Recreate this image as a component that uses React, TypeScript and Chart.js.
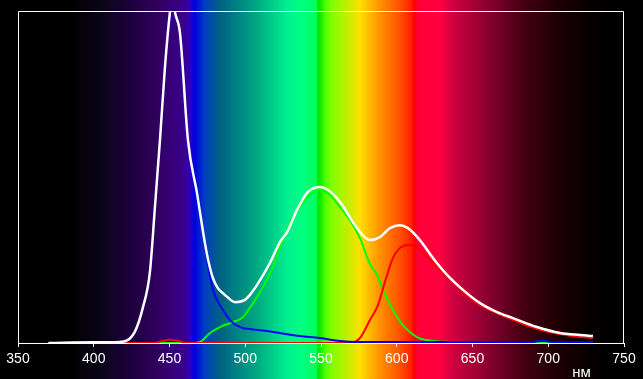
import React, { useEffect, useRef } from "react";
import { Chart, registerables } from "chart.js";

Chart.register(...registerables);

// X axis (wavelength, nm)
const xMin = 350;
const xMax = 750;
const xStep = 50;
const unitLabel = "нм";

// White (total) curve
const whiteNm = [370, 400, 417, 427, 432.5, 437, 440.4, 443.7, 447, 450.3, 452, 453.6, 456.9, 462.2, 468.2, 473.4, 476, 478.7, 482, 485.3, 488, 493.2, 499.8, 503.1, 507.8, 516.3, 522.9, 527.6, 534.2, 541.4, 549.3, 554.6, 562.5, 573.8, 582.3, 588.9, 595.5, 602.1, 607.4, 615.3, 623.9, 633.2, 643.7, 655, 666.2, 676.7, 692.6, 707.8, 721, 729.5];
const whiteVal = [0, 0.2, 0.3, 3.3, 10.8, 21.1, 41, 61.1, 83.1, 99.7, 105, 99.7, 93.4, 61, 45, 30, 24, 19.5, 16.5, 15, 13.9, 12.3, 13, 14.5, 17.5, 24.1, 30.4, 33.4, 40.1, 45.5, 47, 46.1, 42.5, 34.6, 31, 31.9, 34.6, 35.5, 34.6, 31, 25.6, 20.5, 16, 12, 9.3, 7.5, 4.8, 3, 2.4, 2.1];

// Blue channel
const blueNm = [410, 417, 427, 432.5, 437, 440.4, 443.7, 447, 450.3, 452, 453.6, 456.9, 462.2, 468.2, 473.4, 476, 478.7, 485.3, 491.9, 498.5, 503.1, 514.4, 522.9, 536.1, 549.3, 562.5, 573.8, 600, 650, 690, 696, 702, 729.5];
const blueVal = [0, 0.3, 3.3, 10.8, 21.1, 41, 61.1, 83.1, 99, 104, 99, 93.4, 61, 45, 29, 22, 16, 9.9, 6, 4.5, 4.2, 3.6, 3, 2.1, 1.5, 0.6, 0.3, 0.3, 0.3, 0.3, 0.8, 0.3, 0.3];

// Green channel
const greenNm = [410, 462, 465.5, 470.1, 476.7, 483.3, 491.9, 498.5, 505.1, 511.7, 518.3, 522.9, 529.5, 536.1, 542.7, 549.3, 554.6, 562.5, 569.1, 575.7, 582.3, 587, 590.9, 597.5, 604.1, 613.4, 623.9, 635.1, 660, 729.5];
const greenVal = [0, 0, 0, 0.3, 3, 4.8, 6.3, 7.8, 12, 16.9, 22.9, 28.6, 36.1, 41, 44.6, 46.1, 45.2, 41, 37, 31.6, 23.8, 20.5, 16, 9.9, 5.4, 1.8, 0.6, 0.3, 0, 0];

// Red channel
const redNm = [410, 440, 446, 450, 455, 462, 565, 569.1, 575.7, 582.3, 587.6, 592.2, 597.5, 602.1, 607.4, 613.4, 620, 626.6, 633.2, 643.7, 655, 666.2, 676.7, 692.6, 707.8, 721, 729.5];
const redVal = [0, 0, 0.7, 1, 0.7, 0, 0, 0, 1.5, 6.9, 11.4, 18.4, 25.6, 28.6, 29.5, 28.9, 25.9, 22.9, 19.9, 15.4, 11.4, 9, 6.9, 4.2, 2.7, 1.8, 1.5];

// Spectrum background stops
const specNm = [350, 383, 404.8, 427.2, 442.4, 460.2, 463.5, 466.5, 473.4, 483.3, 490, 505.1, 527.6, 538.1, 546.5, 548.5, 550.5, 553, 557, 567.2, 575.7, 588.9, 602.1, 609.5, 611.5, 614, 628.5, 637.1, 659.6, 681.4, 703.1, 725.6, 738.8, 750];
const specColor = ["#000000", "#000000", "#0a0518", "#200040", "#300060", "#3a0090", "#3000c0", "#0000e0", "#0040c0", "#006080", "#007585", "#00a080", "#00f090", "#00ff80", "#00ff60", "#00e400", "#20f000", "#50ff00", "#80ff00", "#c0f000", "#ffe000", "#ff9000", "#ff5000", "#ff2000", "#ff0008", "#ff0038", "#ff0040", "#d00040", "#8a0030", "#4a0015", "#200005", "#080000", "#000000", "#000000"];

const zip = (xs: number[], ys: number[]) => xs.map((x, i) => ({ x, y: ys[i] }));

const spectrumPlugin = {
  id: "spectrum",
  beforeDraw(chart: any) {
    const { ctx, width, height } = chart;
    const xs = chart.scales.x;
    ctx.save();
    ctx.fillStyle = "#000000";
    ctx.fillRect(0, 0, width, height);
    const p0 = xs.getPixelForValue(xMin);
    const p1 = xs.getPixelForValue(xMax);
    const g = ctx.createLinearGradient(p0, 0, p1, 0);
    specNm.forEach((nm, i) => {
      g.addColorStop((nm - xMin) / (xMax - xMin), specColor[i]);
    });
    ctx.fillStyle = g;
    ctx.fillRect(p0, 0, p1 - p0, height);
    ctx.restore();
  },
  afterDraw(chart: any) {
    const { ctx, chartArea } = chart;
    const l = Math.floor(chartArea.left) + 0.5;
    const r = Math.floor(chartArea.right) - 0.5;
    const t = Math.floor(chartArea.top) + 0.5;
    const b = Math.floor(chartArea.bottom);
    ctx.save();
    ctx.strokeStyle = "#ffffff";
    ctx.lineWidth = 1;
    ctx.beginPath();
    ctx.moveTo(l, b);
    ctx.lineTo(l, t);
    ctx.lineTo(r, t);
    ctx.lineTo(r, b);
    ctx.stroke();
    ctx.fillStyle = "#ffffff";
    ctx.font = '15px Arial, "Liberation Sans", sans-serif';
    ctx.textAlign = "center";
    ctx.textBaseline = "alphabetic";
    const xs = chart.scales.x;
    ctx.fillText(unitLabel, xs.getPixelForValue(722), chart.height - 2);
    ctx.restore();
  },
};

export default function App() {
  const ref = useRef<HTMLCanvasElement>(null);
  useEffect(() => {
    document.body.style.margin = "0";
    document.body.style.background = "#000";
    const canvas = ref.current!;
    const chart = new Chart(canvas, {
      type: "line",
      data: {
        datasets: [
          { label: "white", data: zip(whiteNm, whiteVal), borderColor: "#ffffff", borderWidth: 2.5, order: 0 },
          { label: "blue", data: zip(blueNm, blueVal), borderColor: "#0000ff", borderWidth: 2, order: 1 },
          { label: "red", data: zip(redNm, redVal), borderColor: "#ff0000", borderWidth: 2, order: 2 },
          { label: "green", data: zip(greenNm, greenVal), borderColor: "#00ff00", borderWidth: 2, order: 3 },
        ].map((d) => ({ ...d, pointRadius: 0, fill: false, cubicInterpolationMode: "monotone" as const, clip: 0 })),
      },
      options: {
        responsive: false,
        animation: false,
        devicePixelRatio: 1,
        layout: { padding: { left: 18, right: 19, top: 11, bottom: 0 } },
        plugins: { legend: { display: false }, tooltip: { enabled: false } },
        scales: {
          x: {
            type: "linear",
            min: xMin,
            max: xMax,
            afterFit: (s: any) => {
              s.height = 36;
            },
            ticks: {
              stepSize: xStep,
              color: "#ffffff",
              padding: 4,
              font: { family: 'Arial, "Liberation Sans", sans-serif', size: 14 },
              maxRotation: 0,
            },
            grid: { drawOnChartArea: false, drawTicks: true, tickLength: 4, color: "#ffffff" },
            border: { display: true, color: "#ffffff", width: 1 },
          },
          y: { display: false, min: 0, max: 100 },
        },
      },
      plugins: [spectrumPlugin],
    });
    return () => chart.destroy();
  }, []);
  return (
    <div style={{ width: 643, height: 379 }}>
      <canvas ref={ref} width={643} height={379} style={{ display: "block" }} />
    </div>
  );
}
